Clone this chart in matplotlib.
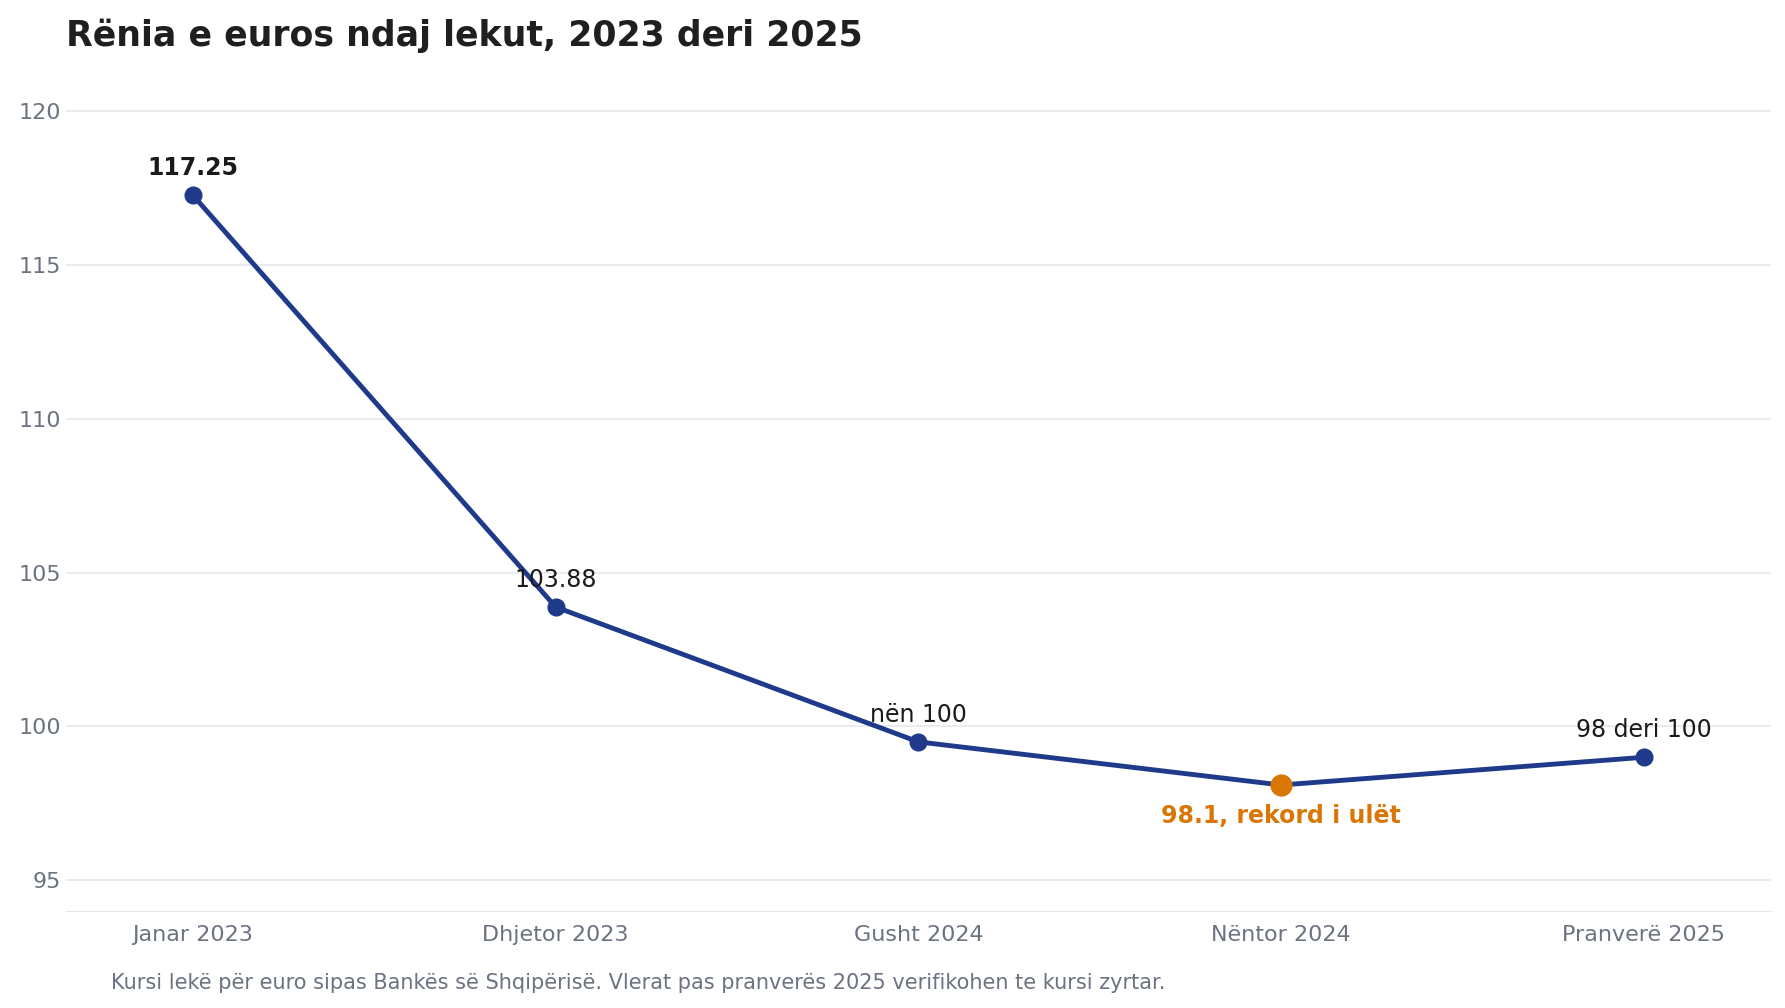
import matplotlib.pyplot as plt

labels = ["Janar 2023", "Dhjetor 2023", "Gusht 2024", "Nëntor 2024", "Pranverë 2025"]
values = [117.25, 103.88, 99.5, 98.1, 99.0]
notes = ["117.25", "103.88", "nën 100", "98.1, rekord i ulët", "98 deri 100"]
yticks = [95, 100, 105, 110, 115, 120]

blue = "#1f3a8a"
orange = "#d97706"

fig = plt.figure(figsize=(17.85, 10.08), dpi=100)
ax = fig.add_axes([0.037, 0.096, 0.955, 0.84])
x = list(range(len(values)))
ax.plot(x, values, color=blue, lw=3.5, zorder=2)
for i, v in enumerate(values):
    c = orange if i == 3 else blue
    s = 15 if i == 3 else 12
    ax.plot(i, v, "o", color=c, ms=s, zorder=3)
    if i == 3:
        ax.annotate(notes[i], (i, v), xytext=(0, -14), textcoords="offset points",
                    ha="center", va="top", fontsize=17, fontweight="bold", color=orange)
    else:
        ax.annotate(notes[i], (i, v), xytext=(0, 11), textcoords="offset points",
                    ha="center", va="bottom", fontsize=17, color="#1a1a1a",
                    fontweight="bold" if i == 0 else "normal")

ax.set_xlim(-0.35, 4.35)
ax.set_ylim(94, 121.5)
ax.set_yticks(yticks)
ax.set_xticks(x)
ax.set_xticklabels(labels)
ax.tick_params(axis="both", labelsize=16, colors="#6b7280", length=0)
ax.tick_params(axis="x", pad=10)
ax.grid(axis="y", color="#e5e7eb", lw=1.2)
ax.set_axisbelow(True)
for s in ["top", "right", "left"]:
    ax.spines[s].set_visible(False)
ax.spines["bottom"].set_color("#e5e7eb")

fig.text(0.037, 0.965, "Rënia e euros ndaj lekut, 2023 deri 2025", fontsize=25,
         fontweight="bold", color="#1f1f1f", va="center")
fig.text(0.062, 0.025, "Kursi lekë për euro sipas Bankës së Shqipërisë. Vlerat pas pranverës 2025 verifikohen te kursi zyrtar.",
         fontsize=15, color="#6b7280", va="center")
fig.savefig("out.png", dpi=100)
